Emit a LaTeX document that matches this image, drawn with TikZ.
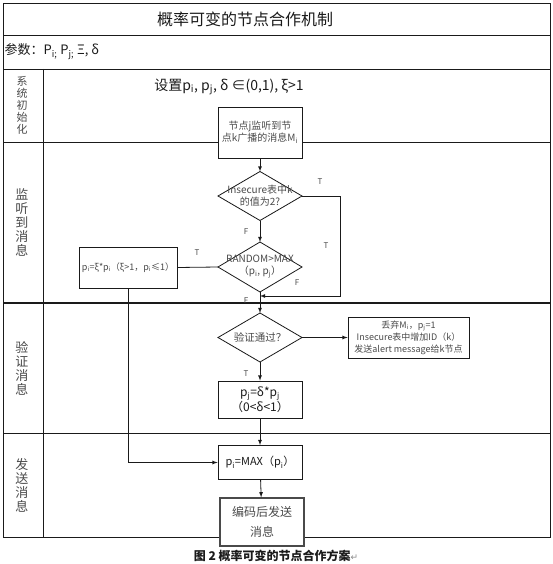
\documentclass[tikz,border=0pt]{standalone}
\usepackage{fontspec}
\setmainfont{Noto Sans CJK SC}
\newfontfamily\symfont{DejaVu Sans}
\usepackage{tikz}
\usetikzlibrary{arrows,shapes.geometric}
\definecolor{ink}{HTML}{1A1A1A}
\definecolor{inkgray}{HTML}{4A4A4A}
\definecolor{soft}{HTML}{8A8A8A}
\newcommand{\lo}[1]{\textsubscript{#1}}
\tikzset{
  every node/.style={font=\fontsize{10}{12}\selectfont,text=inkgray,inner sep=1.5pt},
  frm/.style={draw=ink,line width=0.9pt},
  lanesep/.style={draw=ink,line width=2pt},
  box/.style={draw=ink,fill=white,align=center,line width=0.8pt,inner sep=2pt,minimum width=84pt},
  dec/.style={diamond,draw=ink,fill=white,line width=0.8pt,inner sep=0pt,outer sep=0pt,minimum width=84pt},
  dtxt/.style={align=center,inner sep=0pt},
  lane/.style={align=center,font=\fontsize{13}{14}\selectfont,text=inkgray},
  tf/.style={font=\fontsize{8}{9}\selectfont,text=inkgray},
  ar/.style={->,>=latex,draw=ink,line width=0.8pt},
  link/.style={draw=ink,line width=0.8pt},
}
\begin{document}
\begin{tikzpicture}[x=1pt,y=-1pt]
\useasboundingbox (0,0) rectangle (553,564);
% swimlane frame
\draw[frm] (3,3) rectangle (550,537);
\draw[frm] (3,35) -- (550,35);
\draw[frm] (3,69) -- (550,69);
\draw[frm] (3,142) -- (550,142);
\draw[lanesep] (3,303) -- (550,303);
\draw[frm] (3,433) -- (550,433);
\draw[frm] (43,69) -- (43,537);

% heading rows
\node[font=\fontsize{16}{18}\selectfont,text=ink] (ttl) at (245,19) {概率可变的节点合作机制};
\node[anchor=west,font=\fontsize{13}{15}\selectfont,text=ink] (par) at (3,52) {参数：P\lo{i;} P\lo{j;} Ξ, δ};

% lane labels
\node[lane,font=\fontsize{11}{12}\selectfont] (l1) at (22,105.5) {系\\统\\初\\始\\化};
\node[lane] (l2) at (22,222.5) {监\\听\\到\\消\\息};
\node[lane] (l3) at (22,368) {验\\证\\消\\息};
\node[lane] (l4) at (22,485) {发\\送\\消\\息};

% init lane
\node[font=\fontsize{14}{16}\selectfont,text=ink] (set) at (229,87) {设置p\lo{i}, p\lo{j}, δ ∈(0,1), ξ>1};
\node[box,minimum height=51pt] (rx) at (260,132.5) {节点j监听到节\\点k广播的消息M\lo{i}};

% listening lane
\node[dec,minimum height=49pt] (d1) at (260,196) {};
\node[dtxt] (d1t) at (d1) {Insecure表中k\\的值为2?};
\node[dec,minimum height=50pt] (d2) at (260,267) {};
\node[dtxt] (d2t) at (d2) {RANDOM>MAX\\（p\lo{i}, p\lo{j}）};
\node[box,minimum width=98pt,minimum height=41pt,font=\fontsize{9}{11}\selectfont] (xi) at (128,267.5) {p\lo{i}=ξ*p\lo{i}（ξ>1，p\lo{i}≤1）};
\coordinate (jn) at (260,296);
\draw[ar] (rx) -- (d1);
\draw[ar] (d1) -- (d2);
\draw[link] (d2.west) -- (xi.east);
\draw[ar] (d1.east) -| (340,296) -- (jn);
\node[tf] (t1) at (320,182) {T};
\node[tf] (t2) at (326,246) {T};
\node[tf] (t3) at (197,253) {T};
\node[tf] (f1) at (246,232) {F};
\node[tf] (f2) at (297,283) {F};
\node[tf] (f3) at (246,301) {F};

% verify lane
\node[dec,minimum height=49pt] (d3) at (260,337.5) {};
\node[dtxt,font=\fontsize{10.5}{12}\selectfont] (d3t) at (d3) {验证通过？};
\node[box,minimum width=121pt,minimum height=41pt,font=\fontsize{9}{12}\selectfont] (drop) at (408.5,337.5) {丢弃M\lo{i}，p\lo{j}=1\\Insecure表中增加ID（k）\\发送alert message给k节点};
\node[box,minimum height=37pt,font=\fontsize{12}{15}\selectfont,text=ink] (pj) at (260,399.5) {p\lo{j}=δ*p\lo{j}\\（0<δ<1）};
\draw[ar] (d2) -- (d3);
\draw[ar] (d3) -- (drop);
\draw[ar] (d3) -- (pj);
\node[tf] (t4) at (246,374) {T};

% send lane
\node[box,minimum height=34pt,font=\fontsize{11}{13}\selectfont,text=ink] (max) at (260,462.5) {p\lo{i}=MAX（p\lo{i}）};
\node[box,draw=inkgray,line width=1.2pt,minimum height=48pt,font=\fontsize{12}{20}\selectfont] (send) at (262,522) {编码后发送\\消息};
\draw[ar] (pj) -- (max);
\draw[ar] (xi.south) |- (max.west);
\draw[ar] (max) -- (send);

% caption
\node[font=\fontsize{12}{14}\selectfont\bfseries,text=ink] (cap) at (276,556) {图 2 概率可变的节点合作方案{\symfont\mdseries\color{soft}\fontsize{9}{10}\selectfont ↵}};
\end{tikzpicture}
\end{document}
